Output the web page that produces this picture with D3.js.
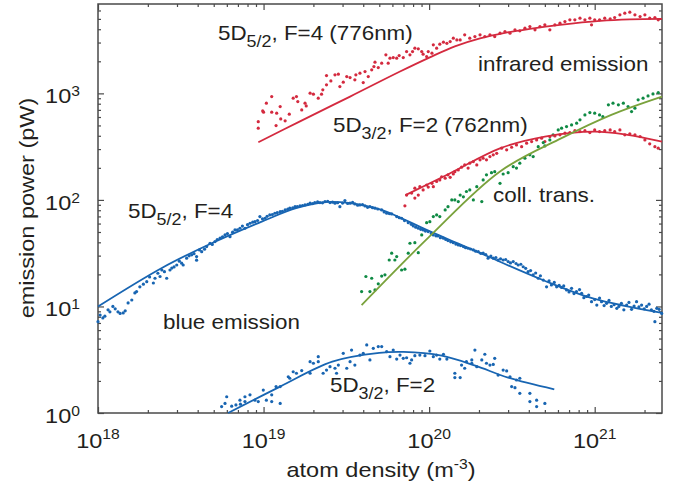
<!DOCTYPE html>
<html lang="en">
<head>
<meta charset="UTF-8">
<title>Emission power vs atom density</title>
<script src="https://d3js.org/d3.v7.min.js"></script>
<style>
  body { margin: 0; background: #fff; }
  svg text { font-family: "Liberation Sans", Arial, sans-serif; fill: #231f20; }
</style>
</head>
<body>
<svg id="chart" width="673" height="487"></svg>
<script>
// axis setup
var xDomain = [1e18, 2.55e21];
var yDomain = [1, 6900];
var xMajor = [1e18, 1e19, 1e20, 1e21];
var xExp = ['18', '19', '20', '21'];
var yMajor = [1, 10, 100, 1000];
var yExp = ['0', '1', '2', '3'];

// 5D5/2 F=4, blue emission  [density m^-3, power pW]
var blueF4 = [
  [1.0e18,7.2],[1.03e18,8.3],[1.07e18,7.8],[1.1e18,8.1],[1.15e18,9.3],[1.18e18,8.9],[1.23e18,10],[1.27e18,9.5],[1.32e18,8.9],[1.36e18,8.6],
  [1.42e18,8.7],[1.46e18,9.1],[1.52e18,10.8],[1.6e18,11.5],[1.67e18,13.4],[1.71e18,13.8],[1.79e18,15.3],[1.88e18,16.2],[1.97e18,17.1],[2.05e18,18.9],
  [2.16e18,16.6],[2.21e18,18.4],[2.3e18,20.5],[2.37e18,19.1],[2.43e18,22],[2.52e18,21.2],[2.6e18,18.4],[2.72e18,22],[2.79e18,22.9],[2.88e18,23.5],
  [2.99e18,24.5],[3.1e18,26.6],[3.2e18,25.5],[3.27e18,24.5],[3.43e18,28.4],[3.55e18,29.9],[3.68e18,30.5],[3.8e18,31.3],[3.94e18,29.4],[3.94e18,27.2],
  [4.1e18,33.9],[4.23e18,32.7],[4.4e18,34.5],[4.53e18,36.5],[4.75e18,39.2],[4.9e18,38.2],[5.09e18,40.6],[5.25e18,42.5],[5.46e18,43.7],[5.65e18,45.1],
  [5.85e18,46.9],[6.05e18,48.3],[6.27e18,45.2],[6.5e18,49.8],[6.72e18,52.3],[6.95e18,52.4],[7.2e18,54.2],[7.45e18,56.8],[7.72e18,54.2],[8.0e18,58.6],
  [8.28e18,60.4],[8.6e18,61.8],[8.87e18,62.5],[9.2e18,64.1],[9.5e18,69.7],[9.85e18,66.4],[1.02e19,67.3],[1.05e19,70.1],[1.09e19,72.3],[1.13e19,73],
  [1.17e19,75],[1.21e19,76.1],[1.26e19,77.6],[1.3e19,78.3],[1.35e19,80.5],[1.4e19,81.9],[1.44e19,83.6],[1.5e19,84.2],[1.55e19,86.5],[1.6e19,86.6],
  [1.66e19,87.9],[1.72e19,88.6],[1.78e19,89.8],[1.85e19,91],[1.91e19,93.1],[1.98e19,92.3],[2.04e19,94.5],[2.12e19,95.8],[2.19e19,94.5],[2.27e19,93.9],
  [2.35e19,96.4],[2.44e19,97.2],[2.52e19,94.5],[2.61e19,95.3],[2.7e19,93.1],[2.8e19,94.1],[2.89e19,86.5],[3.0e19,93.3],[3.1e19,98.5],[3.22e19,92.6],
  [3.33e19,93.1],[3.45e19,94.7],[3.56e19,91.7],[3.7e19,89.1],[3.82e19,89.8],[3.96e19,90.2],[4.1e19,87.9],[4.25e19,85.2],[4.39e19,86.5],[4.55e19,84.6],
  [4.71e19,83.6],[4.9e19,82.2],[5.17e19,80.5],[5.35e19,77],[5.54e19,75],[5.75e19,74.5],[5.94e19,73.9],[6.37e19,69.7],[6.6e19,68],[6.82e19,67.3],
  [7.1e19,64],[7.48e19,61.2],[7.8e19,59],[8.02e19,57],[8.3e19,55.5],[8.6e19,54.2],[8.9e19,53],[9.21e19,52.3],[9.5e19,51],[9.87e19,50.4],
  [1.03e20,48.5],[1.06e20,46.9],[1.1e20,46],[1.13e20,45.9],[1.17e20,44.2],[1.22e20,43.7],[1.26e20,42.6],[1.3e20,41.5],[1.35e20,40.4],[1.4e20,39.7],
  [1.45e20,38.5],[1.5e20,37.8],[1.55e20,37.3],[1.61e20,36.5],[1.66e20,35.6],[1.72e20,35.2],[1.78e20,34.6],[1.85e20,33.9],[1.91e20,33],[1.98e20,32.7],
  [2.05e20,31.5],[2.12e20,31.6],[2.2e20,30.6],[2.27e20,28.4],[2.36e20,29.7],[2.44e20,28.4],[2.53e20,28.8],[2.61e20,27.3],[2.7e20,28],[2.8e20,27.3],
  [2.9e20,27.6],[3.0e20,26.4],[3.1e20,25.6],[3.22e20,26.4],[3.35e20,25.3],[3.45e20,24.5],[3.58e20,24.9],[3.7e20,23.6],[3.83e20,22.8],[3.96e20,21.2],
  [4.1e20,21.7],[4.25e20,19.8],[4.4e20,20.6],[4.56e20,18.4],[4.7e20,19.4],[4.89e20,17.7],[5.12e20,15.3],[5.3e20,17.4],[5.48e20,15.9],[5.7e20,16.8],
  [5.89e20,15.3],[6.1e20,15.8],[6.31e20,15.1],[6.5e20,15.6],[6.76e20,14.3],[7.0e20,13.7],[7.25e20,14.8],[7.5e20,13.2],[7.76e20,13.8],[8.1e20,14.4],
  [8.34e20,13.3],[8.6e20,12.1],[8.93e20,12.4],[9.2e20,12.8],[9.57e20,11.1],[1.0e21,11.6],[1.03e21,10.3],[1.07e21,12],[1.1e21,11.1],[1.14e21,10.2],
  [1.18e21,10.7],[1.22e21,11.4],[1.26e21,10],[1.31e21,10.4],[1.36e21,9.6],[1.4e21,10],[1.45e21,10.7],[1.5e21,9.3],[1.56e21,10.3],[1.61e21,10.9],
  [1.67e21,9.4],[1.73e21,10.1],[1.79e21,11.1],[1.85e21,9.9],[1.92e21,10.3],[1.99e21,9.5],[2.06e21,10],[2.13e21,10.5],[2.2e21,9.3],[2.28e21,9],
  [2.31e21,7.2],[2.37e21,9.6],[2.45e21,9.4],[2.54e21,8.6]
];
var blueF4Fit = [[1e18,10],[2.43e18,23],[4.86e18,39.2],[9.75e18,62.6],[1.59e19,84],[2.45e19,95.8],[3.33e19,93.1],[5.16e19,80.5],
  [7.14e19,64.9],[9.97e19,51.2],[1.49e20,39.1],[2.11e20,30.9],[4.86e20,17.7],[9.75e20,11.9],[2.55e21,8.7]];

// 5D3/2 F=2, blue emission
var blueF2 = [
  [5.58e18,1.15],[5.85e18,1.23],[5.99e18,1.42],[6.42e18,1.16],[6.81e18,1.19],[7.2e18,1.32],[7.25e18,1.21],[7.72e18,1.42],[7.72e18,1.28],[8.28e18,1.48],
  [8.87e18,1.32],[9.29e18,1.28],[9.96e18,1.64],[1.04e19,1.32],[1.12e19,1.48],[1.12e19,1.28],[1.19e19,1.77],[1.26e19,1.23],[1.26e19,1.77],[1.41e19,2.19],
  [1.44e19,2.12],[1.51e19,2.44],[1.58e19,2.36],[1.7e19,2.5],[1.91e19,2.36],[1.91e19,3.03],[2.0e19,2.93],[2.14e19,3.38],[2.14e19,3.03],[2.29e19,2.36],
  [2.4e19,2.53],[2.52e19,2.72],[2.7e19,2.63],[2.76e19,2.36],[2.83e19,2.82],[3.03e19,3.63],[3.18e19,2.63],[3.33e19,3.03],[3.4e19,3.9],[3.56e19,2.82],
  [3.82e19,3.5],[4.0e19,3.63],[4.2e19,4.35],[4.39e19,3.15],[4.6e19,4.05],[4.93e19,4.2],[5.17e19,4.2],[5.54e19,3.77],[5.8e19,3.38],[6.07e19,3.9],
  [6.37e19,3.21],[6.67e19,3.5],[6.98e19,3.26],[7.31e19,3.3],[7.66e19,2.93],[7.84e19,3.15],[8.2e19,3.45],[8.79e19,3.5],[9.44e19,3.45],[1.01e20,3.82],
  [1.06e20,3.38],[1.11e20,3.5],[1.16e20,3.21],[1.22e20,3.56],[1.28e20,3.21],[1.43e20,2.36],[1.43e20,2.15],[1.54e20,2.15],[1.57e20,2.82],[1.64e20,2.63],
  [1.68e20,3.03],[1.81e20,3.15],[1.81e20,2.93],[1.89e20,3.9],[1.94e20,2.72],[2.08e20,3.15],[2.17e20,3.56],[2.22e20,2.93],[2.33e20,2.82],[2.44e20,2.86],
  [2.49e20,3.26],[2.61e20,2.27],[2.8e20,2.53],[2.94e20,2.48],[3.08e20,2.19],[3.15e20,1.77],[3.3e20,1.73],[3.37e20,2.04],[3.53e20,2.12],[3.53e20,1.53],
  [4.06e20,1.53],[4.06e20,1.28],[4.46e20,1.32],[4.46e20,1.15],[5.0e20,1.23]
];
var blueF2Fit = [[6.1e18,1.0],[1.26e19,1.77],[2.6e19,3.03],[5.0e19,3.66],[7e19,3.74],[1.19e20,3.45],[1.9e20,2.78],[3e20,2.15],[5.7e20,1.67]];

// 5D5/2 F=4, 776 nm infrared emission
var red776 = [
  [9.29e18,543],[9.29e18,471],[9.88e18,685],[1.0e19,666],[1.04e19,809],[1.12e19,933],[1.12e19,666],[1.19e19,499],[1.2e19,652],[1.26e19,751],
  [1.27e19,576],[1.35e19,552],[1.43e19,638],[1.51e19,901],[1.58e19,933],[1.61e19,838],[1.7e19,700],[1.78e19,809],[1.81e19,763],[1.91e19,1004],
  [2.0e19,983],[2.14e19,901],[2.24e19,983],[2.28e19,1079],[2.4e19,1202],[2.4e19,1469],[2.55e19,1310],[2.7e19,1492],[2.83e19,1515],[2.89e19,1158],
  [3.03e19,1274],[3.18e19,1438],[3.33e19,1407],[3.56e19,1339],[3.61e19,1492],[3.82e19,1548],[4.0e19,1263],[4.1e19,1602],[4.29e19,1438],[4.5e19,1663],
  [4.64e19,1786],[4.71e19,1963],[4.93e19,1746],[5.17e19,1921],[5.48e19,2300],[5.66e19,1921],[5.8e19,2142],[6.07e19,2168],[6.37e19,2142],[6.59e19,2264],
  [6.98e19,2168],[7.31e19,2468],[7.66e19,2300],[7.94e19,2468],[8.2e19,2656],[8.6e19,2618],[9.02e19,2468],[9.2e19,2333],[9.66e19,2216],[9.88e19,2468],
  [1.04e20,2384],[1.06e20,2853],[1.11e20,2656],[1.16e20,2897],[1.22e20,3025],[1.28e20,2950],[1.34e20,3064],[1.4e20,3300],[1.47e20,3177],[1.54e20,3177],
  [1.64e20,3542],[1.76e20,3300],[1.89e20,3414],[2.03e20,3542],[2.17e20,3414],[2.33e20,3542],[2.49e20,3414],[2.68e20,3673],[2.87e20,3802],[3.08e20,3673],
  [3.3e20,3947],[3.53e20,3864],[3.79e20,4093],[4.06e20,4238],[4.36e20,3947],[4.67e20,4238],[5.0e20,4397],[5.36e20,3947],[5.75e20,4397],[6.17e20,4560],
  [6.61e20,4721],[7.08e20,4900],[7.59e20,4900],[8.15e20,5083],[8.73e20,4900],[9.35e20,5083],[9.57e20,4397],[1.0e21,4900],[1.07e21,4900],[1.15e21,5083],
  [1.24e21,5012],[1.32e21,5152],[1.42e21,5459],[1.52e21,5662],[1.63e21,5786],[1.75e21,5459],[1.88e21,5260],[2.01e21,5459],[2.15e21,5083],[2.31e21,5152],
  [2.42e21,4900]
];
var red776Fit = [[9.3e18,348],[1.66e19,546],[3.33e19,933],[6.67e19,1603],[1.01e20,2178],[1.43e20,2762],[2.03e20,3282],
  [2.87e20,3698],[4.06e20,4033],[6.17e20,4398],[1.08e21,4797],[1.63e21,4955],[2.55e21,5010]];

// 5D3/2 F=2, 762 nm infrared emission
var red762 = [
  [7.14e19,88],[7.31e19,111],[7.84e19,116],[8.2e19,129],[8.2e19,104],[8.6e19,111],[8.79e19,133],[9.2e19,124],[9.66e19,138],[9.88e19,132],
  [1.04e20,143],[1.06e20,133],[1.11e20,149],[1.16e20,154],[1.19e20,165],[1.25e20,160],[1.3e20,172],[1.34e20,163],[1.4e20,175],[1.43e20,184],
  [1.5e20,191],[1.57e20,203],[1.64e20,213],[1.72e20,199],[1.76e20,221],[1.85e20,229],[1.94e20,213],[2.03e20,238],[2.12e20,246],[2.22e20,238],
  [2.33e20,255],[2.44e20,265],[2.56e20,274],[2.74e20,306],[2.94e20,295],[3.15e20,312],[3.37e20,328],[3.62e20,316],[3.88e20,341],[4.16e20,353],
  [4.46e20,366],[4.78e20,380],[5.0e20,353],[5.36e20,393],[5.75e20,399],[6.17e20,408],[6.61e20,423],[7.08e20,429],[7.59e20,447],[8.15e20,438],
  [8.73e20,447],[9.35e20,429],[1.0e21,454],[1.07e21,438],[1.15e21,447],[1.24e21,454],[1.32e21,438],[1.42e21,454],[1.52e21,408],[1.63e21,417],
  [1.75e21,408],[1.88e21,393],[2.01e21,366],[2.15e21,336],[2.31e21,316],[2.42e21,306]
];
var red762Fit = [[7.2e19,111],[1.34e20,178],[2.7e20,306],[5e20,393],[1e21,438],[1.58e21,408],[2.55e21,352]];

// collisional transfer
var green = [
  [3.91e19,13.8],[4.15e19,19.1],[4.39e19,13.8],[4.5e19,18.4],[4.71e19,14.3],[4.93e19,16.3],[5.17e19,19.3],[5.41e19,19.8],[5.74e19,27.3],[5.94e19,31.6],
  [6.21e19,27.3],[6.37e19,29.4],[6.82e19,22],[7.14e19,22.4],[7.48e19,31.6],[7.66e19,39.2],[8.2e19,39.7],[8.6e19,32],[9.02e19,46.9],[9.66e19,61.2],
  [1.01e20,62.5],[1.06e20,69.7],[1.11e20,72.3],[1.16e20,69.7],[1.25e20,80.5],[1.3e20,86.5],[1.37e20,100],[1.43e20,100],[1.5e20,96.4],[1.54e20,111],
  [1.61e20,107],[1.68e20,120],[1.76e20,124],[1.85e20,100],[1.94e20,133],[2.08e20,96.4],[2.12e20,154],[2.22e20,172],[2.38e20,180],[2.49e20,184],
  [2.68e20,143],[2.8e20,175],[3.0e20,180],[3.22e20,205],[3.37e20,199],[3.53e20,221],[3.79e20,246],[4.06e20,265],[4.25e20,255],[4.56e20,316],
  [4.89e20,345],[5.0e20,321],[5.36e20,366],[5.61e20,408],[6.02e20,454],[6.31e20,471],[6.76e20,488],[7.25e20,506],[7.78e20,525],[8.15e20,564],
  [8.73e20,628],[9.35e20,661],[1.0e21,652],[1.07e21,628],[1.12e21,605],[1.21e21,780],[1.29e21,809],[1.39e21,780],[1.49e21,809],[1.59e21,752],
  [1.67e21,675],[1.75e21,726],[1.83e21,869],[1.96e21,902],[2.1e21,947],[2.25e21,989],[2.42e21,1018]
];
var greenFit = [[3.91e19,10.3],[1e20,45],[2.68e20,185],[6.31e20,380],[1.26e21,629],[2.55e21,933]];

// annotations: [x px, baseline px, parts]
var notes = [
  [218, 39.5, [{t: '5D'}, {t: '5/2', sub: true}, {t: ', F=4 (776nm)'}]],
  [478, 71, [{t: 'infrared emission'}]],
  [333, 131.5, [{t: '5D'}, {t: '3/2', sub: true}, {t: ', F=2 (762nm)'}]],
  [493, 201.5, [{t: 'coll. trans.'}]],
  [128, 218.3, [{t: '5D'}, {t: '5/2', sub: true}, {t: ', F=4'}]],
  [163, 329.3, [{t: 'blue emission'}]],
  [330, 391.7, [{t: '5D'}, {t: '3/2', sub: true}, {t: ', F=2'}]]
];

var blue = '#1865b2', red = '#d42a3f', greenDot = '#0f8a44', greenLine = '#7aa23c', ink = '#4a4a4a';

var svg = d3.select('#chart');
var x = d3.scaleLog().domain(xDomain).range([98, 662]);
var y = d3.scaleLog().domain(yDomain).range([413, 4]);

// text with sub/superscripts, slightly widened like the original figure
function richText(px, py, parts, size, small, anchor, rotate) {
  var t = svg.append('g')
    .attr('transform', 'translate(' + px + ',' + py + ')' + (rotate ? ' rotate(' + rotate + ')' : '') + ' scale(1.12,1)')
    .append('text')
    .attr('text-anchor', anchor || 'start')
    .style('font-size', size + 'px');
  var shift = 0;
  parts.forEach(function(p) {
    var dy = 0, s = size;
    if (p.sub) { dy = 7; s = small; }
    if (p.sup) { dy = p.up || -8; s = small; }
    t.append('tspan').text(p.t).style('font-size', s + 'px').attr('dy', dy - shift);
    shift = dy;
  });
}

// ticks, inward on all four sides
var xMinor = x.ticks().filter(function(v) { return xMajor.indexOf(v) < 0; });
var yMinor = y.ticks().filter(function(v) { return yMajor.indexOf(v) < 0; });

function tickAxis(axis, vals, size, tx, ty) {
  var g = svg.append('g').attr('transform', 'translate(' + tx + ',' + ty + ')')
    .call(axis.tickValues(vals).tickSize(size).tickFormat(''));
  g.select('.domain').remove();
  g.selectAll('line').attr('stroke', ink).attr('stroke-width', 1.2);
}
tickAxis(d3.axisBottom(x), xMajor, -6, 0, 413);
tickAxis(d3.axisBottom(x), xMinor, -3, 0, 413);
tickAxis(d3.axisTop(x), xMajor, -6, 0, 4);
tickAxis(d3.axisTop(x), xMinor, -3, 0, 4);
tickAxis(d3.axisLeft(y), yMajor, -6, 98, 0);
tickAxis(d3.axisLeft(y), yMinor, -3, 98, 0);
tickAxis(d3.axisRight(y), yMajor, -6, 662, 0);
tickAxis(d3.axisRight(y), yMinor, -3, 662, 0);

svg.append('rect')
  .attr('x', x(xDomain[0])).attr('y', y(yDomain[1]))
  .attr('width', x(xDomain[1]) - x(xDomain[0]))
  .attr('height', y(yDomain[0]) - y(yDomain[1]))
  .attr('fill', 'none').attr('stroke', ink).attr('stroke-width', 1.5);

// tick labels
xMajor.forEach(function(v, i) {
  richText(x(v), 448, [{t: '10'}, {t: xExp[i], sup: true, up: -9}], 21, 14, 'middle');
});
yMajor.forEach(function(v, i) {
  richText(80, y(v) + 10, [{t: '10'}, {t: yExp[i], sup: true, up: -7}], 21, 14, 'end');
});

// axis titles
richText(381, 477, [{t: 'atom density (m'}, {t: '-3', sup: true, up: -8}, {t: ')'}], 21, 14, 'middle');
richText(34, 208, [{t: 'emission power (pW)'}], 21, 14, 'middle', -90);

// data
function dots(data, color) {
  svg.append('g').selectAll('circle').data(data).enter().append('circle')
    .attr('cx', function(d) { return x(d[0]); })
    .attr('cy', function(d) { return y(d[1]); })
    .attr('r', 1.6)
    .attr('fill', color);
}
var line = d3.line()
  .x(function(d) { return x(d[0]); })
  .y(function(d) { return y(d[1]); })
  .curve(d3.curveCatmullRom);
function fit(data, color) {
  svg.append('path').datum(data).attr('d', line)
    .attr('fill', 'none').attr('stroke', color).attr('stroke-width', 1.8);
}

dots(blueF4, blue);
dots(blueF2, blue);
dots(red776, red);
dots(red762, red);
dots(green, greenDot);
fit(blueF4Fit, blue);
fit(blueF2Fit, blue);
fit(red776Fit, red);
fit(red762Fit, red);
fit(greenFit, greenLine);

notes.forEach(function(n) { richText(n[0], n[1], n[2], 20, 16); });
</script>
</body>
</html>
